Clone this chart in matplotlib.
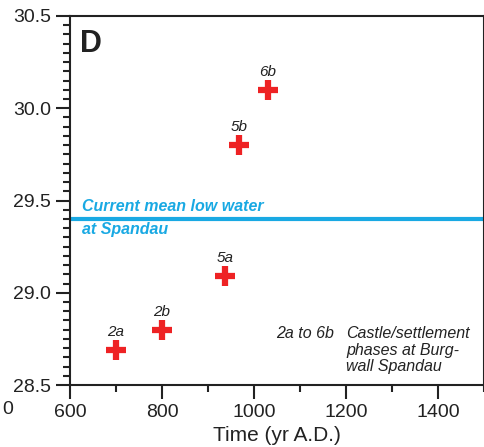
import matplotlib.pyplot as plt
from matplotlib.ticker import MultipleLocator

plt.rcParams['font.family'] = ['Liberation Sans', 'DejaVu Sans']

# phases at Burgwall Spandau
phases = ['2a', '2b', '5a', '5b', '6b']
years = [700, 800, 937, 967, 1030]
levels = [28.69, 28.80, 29.09, 29.80, 30.10]
low_water = 29.4

fig = plt.figure(figsize=(4.85, 4.47), dpi=100)
ax = fig.add_axes([70 / 485, 1 - 385 / 447, 414 / 485, 369 / 447])

ax.axhline(low_water, color='#19a9e3', lw=3)
ax.text(626, 29.47, 'Current mean low water', color='#19a9e3', fontsize=11.5,
        fontweight='bold', style='italic', va='center')
ax.text(626, 29.345, 'at Spandau', color='#19a9e3', fontsize=11.5,
        fontweight='bold', style='italic', va='center')

ax.plot(years, levels, '+', color='#ee2224', ms=14, mew=4.5, ls='none')
for p, x, y in zip(phases, years, levels):
    ax.annotate(p, (x, y), xytext=(0, 13), textcoords='offset points',
                ha='center', va='center', style='italic', fontsize=11, color='#222222')

ax.text(1173, 28.777, '2a to 6b', style='italic', fontsize=11.5, ha='right', va='center',
        color='#222222')
ax.text(1201, 28.818, 'Castle/settlement\nphases at Burg-\nwall Spandau', style='italic',
        fontsize=11.5, ha='left', va='top', color='#222222', linespacing=1.13)

ax.text(0.025, 0.965, 'D', transform=ax.transAxes, fontsize=22, fontweight='bold',
        ha='left', va='top', color='#222222')

ax.set_xlim(600, 1500)
ax.set_ylim(28.5, 30.5)
ax.xaxis.set_major_locator(MultipleLocator(200))
ax.xaxis.set_minor_locator(MultipleLocator(100))
ax.yaxis.set_major_locator(MultipleLocator(0.5))
ax.yaxis.set_minor_locator(MultipleLocator(0.05))
ax.yaxis.set_major_formatter(plt.FormatStrFormatter('%.1f'))
ax.tick_params(which='major', length=10, width=1.5, labelsize=14, colors='#222222')
ax.tick_params(which='minor', length=5, width=1.5, colors='#222222')
for s in ax.spines.values():
    s.set_linewidth(1.5)
    s.set_color('#222222')
ax.set_xlabel('Time (yr A.D.)', fontsize=15, color='#222222', labelpad=4)

fig.text(13 / 485, 1 - 410 / 447, '0', fontsize=14, ha='right', va='center', color='#222222')

plt.savefig('out.png', dpi=100)
